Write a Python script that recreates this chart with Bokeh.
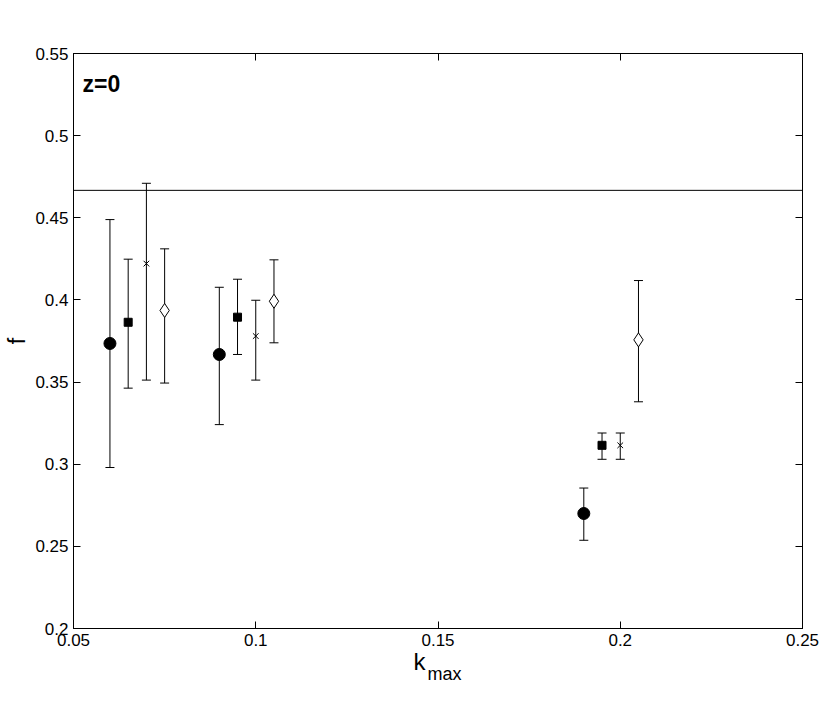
from bokeh.plotting import figure
from bokeh.models import ColumnDataSource, Whisker, Span, Label, Range1d, FixedTicker, LinearAxis, TeeHead
from bokeh.embed import file_html
from bokeh.resources import INLINE

# ---- data ----
x_ticks = [0.05, 0.1, 0.15, 0.2, 0.25]
x_tick_labels = ["0.05", "0.1", "0.15", "0.2", "0.25"]
y_ticks = [0.2, 0.25, 0.3, 0.35, 0.4, 0.45, 0.5, 0.55]
y_tick_labels = ["0.2", "0.25", "0.3", "0.35", "0.4", "0.45", "0.5", "0.55"]

circle_x = [0.06, 0.09, 0.19]
circle_y = [0.3735, 0.3668, 0.270]
circle_lo = [0.298, 0.3241, 0.2537]
circle_hi = [0.4489, 0.4077, 0.2855]

square_x = [0.065, 0.095, 0.195]
square_y = [0.3864, 0.3895, 0.3115]
square_lo = [0.3463, 0.3668, 0.303]
square_hi = [0.4248, 0.4126, 0.319]

cross_x = [0.07, 0.1, 0.2]
cross_y = [0.4221, 0.378, 0.3115]
cross_lo = [0.3512, 0.3512, 0.303]
cross_hi = [0.471, 0.3998, 0.319]

diamond_x = [0.075, 0.105, 0.205]
diamond_y = [0.3936, 0.3992, 0.3757]
diamond_lo = [0.3494, 0.3739, 0.338]
diamond_hi = [0.4311, 0.4244, 0.4118]

hline_y = 0.4667

FONT = "Liberation Sans"

p = figure(width=822, height=718, output_backend="svg", toolbar_location=None,
           x_range=Range1d(0.05, 0.25), y_range=Range1d(0.2, 0.55),
           min_border_left=73, min_border_right=20, min_border_top=53, min_border_bottom=90)
p.grid.visible = False
p.outline_line_color = "black"
p.outline_line_width = 1
p.background_fill_color = "white"
p.border_fill_color = "white"

for ax in (p.xaxis[0], p.yaxis[0]):
    ax.major_tick_in = 7
    ax.major_tick_out = 0
    ax.minor_tick_line_color = None
    ax.axis_line_color = "black"
    ax.major_tick_line_color = "black"
    ax.major_label_text_font = FONT
    ax.major_label_text_font_size = "17px"
    ax.major_label_text_color = "black"

p.xaxis[0].ticker = FixedTicker(ticks=x_ticks)
p.xaxis[0].major_label_overrides = dict(zip(x_ticks, x_tick_labels))
p.xaxis[0].major_label_standoff = 5
p.yaxis[0].ticker = FixedTicker(ticks=y_ticks)
p.yaxis[0].major_label_overrides = dict(zip(y_ticks, y_tick_labels))
p.yaxis[0].major_label_standoff = 5
p.yaxis[0].axis_label = "f"
p.yaxis[0].axis_label_text_font = FONT
p.yaxis[0].axis_label_text_font_size = "23px"
p.yaxis[0].axis_label_text_font_style = "normal"
p.yaxis[0].axis_label_text_color = "black"
p.yaxis[0].axis_label_standoff = 2

# mirrored ticks on top / right (no labels)
top = LinearAxis(ticker=FixedTicker(ticks=x_ticks), major_label_overrides={t: "" for t in x_ticks},
                 major_tick_in=7, major_tick_out=0, minor_tick_line_color=None,
                 axis_line_color="black", major_label_standoff=0)
right = LinearAxis(ticker=FixedTicker(ticks=y_ticks), major_label_overrides={t: "" for t in y_ticks},
                   major_tick_in=7, major_tick_out=0, minor_tick_line_color=None,
                   axis_line_color="black", major_label_standoff=0)
p.add_layout(top, "above")
p.add_layout(right, "right")

p.add_layout(Span(location=hline_y, dimension="width", line_color="black", line_width=1))

def series(x, y, lo, hi):
    src = ColumnDataSource(dict(x=x, y=y, lo=lo, hi=hi))
    w = Whisker(base="x", lower="lo", upper="hi", source=src, line_color="black", line_width=1,
                upper_head=TeeHead(size=9, line_color="black"), lower_head=TeeHead(size=9, line_color="black"))
    p.add_layout(w)
    return src

s1 = series(circle_x, circle_y, circle_lo, circle_hi)
s2 = series(square_x, square_y, square_lo, square_hi)
s3 = series(cross_x, cross_y, cross_lo, cross_hi)
s4 = series(diamond_x, diamond_y, diamond_lo, diamond_hi)

p.scatter("x", "y", source=s1, marker="circle", size=12, fill_color="black", line_color="black")
p.scatter("x", "y", source=s2, marker="square", size=8, fill_color="black", line_color="black")
p.scatter("x", "y", source=s3, marker="x", size=8, line_color="black", line_width=1)
p.scatter("x", "y", source=s4, marker="diamond", size=14, fill_color="white", line_color="black")

# labels
p.add_layout(Label(x=9, y=545, x_units="screen", y_units="screen", text="z=0",
                   text_font=FONT, text_font_style="bold", text_font_size="23px",
                   text_color="black", text_baseline="alphabetic"))
p.add_layout(Label(x=340, y=14, x_units="screen", y_units="screen", text="k",
                   text_font=FONT, text_font_size="24px", text_color="black",
                   text_baseline="alphabetic"), "below")
p.add_layout(Label(x=354, y=22, x_units="screen", y_units="screen", text="max",
                   text_font=FONT, text_font_size="18px", text_color="black",
                   text_baseline="alphabetic"), "below")

open("out.html", "w").write(file_html(p, INLINE))
